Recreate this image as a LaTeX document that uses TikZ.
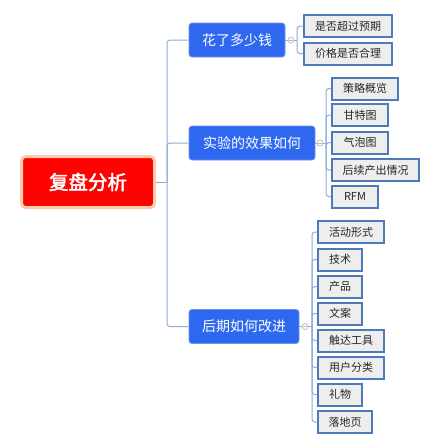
\documentclass[tikz,border=0pt]{standalone}
\usepackage{fontspec}
\setmainfont{Noto Sans CJK SC}
\newfontfamily\cjkbold{Noto Sans CJK SC}[AutoFakeBold=2.5]
\definecolor{branchblue}{RGB}{45,104,238}
\definecolor{branchedge}{RGB}{110,150,240}
\definecolor{leafedge}{RGB}{78,122,188}
\definecolor{leaffill}{RGB}{238,238,238}
\definecolor{connblue}{RGB}{142,172,216}
\definecolor{rootred}{RGB}{255,2,2}
\definecolor{peach}{RGB}{250,205,175}
\definecolor{knob}{RGB}{185,185,190}
\tikzset{
  rootbox/.style={draw=peach, line width=3pt, fill=rootred, rounded corners=4pt,
    minimum width=133pt, minimum height=51pt, inner sep=0pt,
    text=white, font=\cjkbold\bfseries\fontsize{19.5pt}{19.5pt}\selectfont},
  branchbox/.style={draw=branchedge, line width=0.8pt, fill=branchblue, rounded corners=3pt,
    minimum height=34pt, inner sep=0pt, text=white,
    font=\fontsize{14pt}{14pt}\selectfont},
  leafbox/.style={draw=leafedge, line width=2pt, fill=leaffill,
    minimum height=22pt, inner sep=0pt, text=black!85,
    font=\fontsize{11pt}{11pt}\selectfont},
  conn/.style={draw=connblue, line width=1pt, rounded corners=3pt},
  knobc/.style={circle, draw=knob, fill=white, line width=0.7pt, minimum size=6pt, inner sep=0pt}
}
\begin{document}
\begin{tikzpicture}[x=1pt,y=-1pt]
\useasboundingbox (0,0) rectangle (430,445);
% root
\node[rootbox] (root) at (88,182) {复盘分析};
% branches
\node[branchbox, minimum width=96pt] (b1) at (237,40) {花了多少钱};
\node[branchbox, minimum width=126pt] (b2) at (252,143) {实验的效果如何};
\node[branchbox, minimum width=110pt] (b3) at (244,326.5) {后期如何改进};
% trunk
\coordinate (t) at (167,182);
\draw[conn] (root.east) -- (t);
\draw[conn] (t) |- (b1.west);
\draw[conn] (t) |- (b2.west);
\draw[conn] (t) |- (b3.west);
% leaves branch 1
\node[leafbox, minimum width=88pt] (l11) at (348,26) {是否超过预期};
\node[leafbox, minimum width=88pt] (l12) at (348,53.5) {价格是否合理};
% leaves branch 2
\node[leafbox, minimum width=66pt] (l21) at (365,88.5) {策略概览};
\node[leafbox, minimum width=56pt] (l22) at (360,115) {甘特图};
\node[leafbox, minimum width=56pt] (l23) at (360,142.5) {气泡图};
\node[leafbox, minimum width=87pt] (l24) at (375.5,170) {后续产出情况};
\node[leafbox, minimum width=46pt] (l25) at (355,196.5) {RFM};
% leaves branch 3
\node[leafbox, minimum width=66pt] (l31) at (351,232) {活动形式};
\node[leafbox, minimum width=44pt] (l32) at (340,259.5) {技术};
\node[leafbox, minimum width=44pt] (l33) at (340,286.5) {产品};
\node[leafbox, minimum width=44pt] (l34) at (340,313.5) {文案};
\node[leafbox, minimum width=66pt] (l35) at (351,340.5) {触达工具};
\node[leafbox, minimum width=66pt] (l36) at (351,367.5) {用户分类};
\node[leafbox, minimum width=44pt] (l37) at (340,394.5) {礼物};
\node[leafbox, minimum width=54pt] (l38) at (345,422) {落地页};
% knobs and brackets
\node[knobc] (c1) at (291,40) {};
\node[knobc] (c2) at (320,143) {};
\node[knobc] (c3) at (305,326.5) {};
\coordinate (k1) at (297,40);
\coordinate (k2) at (326,143);
\coordinate (k3) at (312,326.5);
\draw[conn] (b1.east) -- (c1.west);
\draw[conn] (b2.east) -- (c2.west);
\draw[conn] (b3.east) -- (c3.west);
\draw[conn] (c1.east) -- (k1);
\draw[conn] (c2.east) -- (k2);
\draw[conn] (c3.east) -- (k3);
\foreach \l in {l11,l12} \draw[conn] (k1) |- (\l.west);
\foreach \l in {l21,l22,l23,l24,l25} \draw[conn] (k2) |- (\l.west);
\foreach \l in {l31,l32,l33,l34,l35,l36,l37,l38} \draw[conn] (k3) |- (\l.west);
\draw[knob, line width=0.6pt] ([xshift=1pt]c1.west) -- ([xshift=-1pt]c1.east)
  ([xshift=1pt]c2.west) -- ([xshift=-1pt]c2.east)
  ([xshift=1pt]c3.west) -- ([xshift=-1pt]c3.east);
\end{tikzpicture}
\end{document}
